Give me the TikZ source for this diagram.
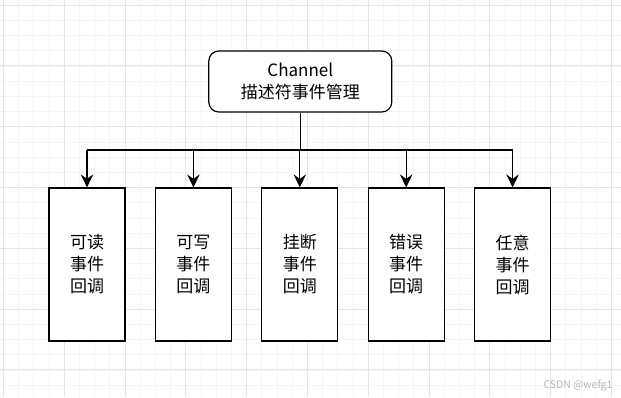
\documentclass[tikz,border=0pt]{standalone}
\usepackage{fontspec}
\setmainfont{Noto Sans CJK SC}
\usetikzlibrary{arrows.meta}

\begin{document}
\begin{tikzpicture}[x=1pt, y=-1pt, every node/.style={font=\fontsize{17}{22}\selectfont}, >={Stealth[length=13pt, width=12.5pt, inset=4.5pt]},
	cb/.style={draw, line width=1.2pt, fill=white, align=center, minimum width=76pt, minimum height=153pt, inner sep=0pt},
	link/.style={line width=1.2pt}]
	\useasboundingbox (0,0) rectangle (621,397);
	\fill[white] (0,0) rectangle (621,397);
	% grid
	\foreach \k in {0,...,40} {\draw[gray!8, line width=0.6pt] (3.3+15.2*\k,0) -- (3.3+15.2*\k,397); \draw[gray!8, line width=0.6pt] (0,5+15.2*\k) -- (621,5+15.2*\k);}
	\foreach \k in {0,...,10} {\draw[gray!20, line width=0.8pt] (3.3+60.8*\k,0) -- (3.3+60.8*\k,397); \draw[gray!20, line width=0.8pt] (0,5+60.8*\k) -- (621,5+60.8*\k);}
	\node[draw, line width=1.2pt, fill=white, rounded corners=10pt, align=center, minimum width=183pt, minimum height=61pt, inner sep=0pt] (ch) at (300.3,81.5) {Channel\\描述符事件管理};
	\node[cb] (r) at (87,264.5) {可读\\事件\\回调}; \node[cb] (w) at (193.4,264.5) {可写\\事件\\回调}; \node[cb] (h) at (299.8,264.5) {挂断\\事件\\回调};
	\node[cb] (e) at (406.2,264.5) {错误\\事件\\回调}; \node[cb] (a) at (512.6,264.5) {任意\\事件\\回调};
	\coordinate (bus) at (300.3,150);
	\draw[link] (ch.south) -- (bus); \draw[link] (r.north |- bus) -- (a.north |- bus);
	\foreach \b in {r,w,h,e,a} \draw[link, ->] (\b.north |- bus) -- (\b.north);
	\node[gray!55, font=\fontsize{10.5}{12}\selectfont] (wm) at (578,386) {CSDN @wefg1};
\end{tikzpicture}
\end{document}
